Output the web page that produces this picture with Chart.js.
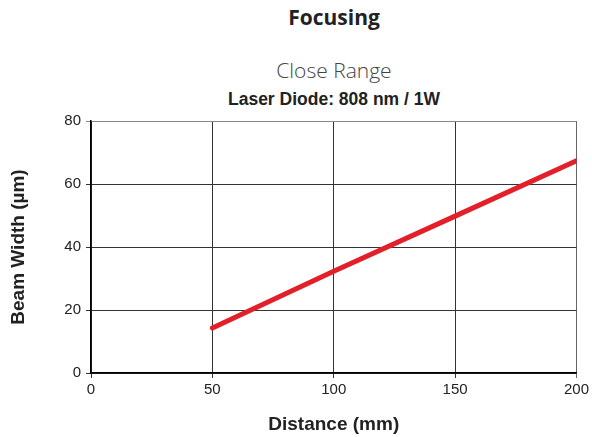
<!DOCTYPE html>
<html>
<head>
<meta charset="utf-8">
<script src="https://cdn.jsdelivr.net/npm/chart.js@4.4.1/dist/chart.umd.min.js"></script>
<style>
  html, body { margin: 0; padding: 0; background: #fff; }
  #wrap { position: relative; width: 592px; height: 437px; }
  .hd { position: absolute; left: 91px; width: 486px; text-align: center; white-space: nowrap; }
  #t1 { top: 3px; font: 700 21px "Open Sans", sans-serif; color: #222; }
  #t2 { top: 56px; font: 300 21px "Open Sans", sans-serif; color: #444; }
  #t3 { top: 89px; font: 700 17.5px "Liberation Sans", Arial, sans-serif; color: #222; }
  canvas { position: absolute; left: 0; top: 0; }
</style>
</head>
<body>
<div id="wrap">
  <div class="hd" id="t1">Focusing</div>
  <div class="hd" id="t2">Close Range</div>
  <div class="hd" id="t3">Laser Diode: 808 nm / 1W</div>
  <canvas id="c" width="592" height="437"></canvas>
</div>
<script>
// values
const distance  = [50, 100, 150, 200];        // mm
const beamWidth = [14.3, 32.3, 49.8, 67.4];   // µm
const xTicks = [0, 50, 100, 150, 200];
const yTicks = [0, 20, 40, 60, 80];

const LINE_RED = '#e3202a';
const GRID = '#333';

new Chart(document.getElementById('c'), {
  type: 'line',
  data: {
    datasets: [{
      label: 'Beam width',
      data: distance.map((d, i) => ({ x: d, y: beamWidth[i] })),
      borderColor: LINE_RED,
      borderWidth: 5,
      pointRadius: 0,
      tension: 0,
      borderCapStyle: 'round',
    }],
  },
  options: {
    responsive: false,
    animation: false,
    events: [],
    layout: { padding: { top: 121, right: 15, left: 0, bottom: 0 } },
    plugins: { legend: { display: false }, tooltip: { enabled: false } },
    scales: {
      x: {
        type: 'linear', min: 0, max: 200,
        afterBuildTicks: (s) => { s.ticks = xTicks.map(v => ({ value: v })); },
        afterFit: (s) => { s.height = 64; },
        ticks: { color: '#222', font: { family: 'Liberation Sans', size: 15 }, padding: 3, maxRotation: 0 },
        grid: {
          color: (ctx) => ctx.tick && ctx.tick.value === 200 ? '#666' : GRID,
          lineWidth: 1, tickLength: 5,
        },
        border: { color: '#000', width: 1.5 },
        title: {
          display: true, text: 'Distance (mm)', color: '#222',
          font: { family: 'Liberation Sans', size: 19, weight: 'bold' },
          padding: { top: 0, bottom: 1 },
        },
      },
      y: {
        min: 0, max: 80,
        afterBuildTicks: (s) => { s.ticks = yTicks.map(v => ({ value: v })); },
        afterFit: (s) => { s.width = 91; },
        ticks: { color: '#222', font: { family: 'Liberation Sans', size: 15 }, padding: 5 },
        grid: {
          color: (ctx) => ctx.tick && ctx.tick.value === 80 ? '#888' : GRID,
          lineWidth: 1, tickLength: 5,
        },
        border: { color: '#000', width: 1.5 },
        title: {
          display: true, text: 'Beam Width (µm)', color: '#222',
          font: { family: 'Liberation Sans', size: 19, weight: 'bold' },
          padding: { top: 7, bottom: 0 },
        },
      },
    },
  },
});
</script>
</body>
</html>
